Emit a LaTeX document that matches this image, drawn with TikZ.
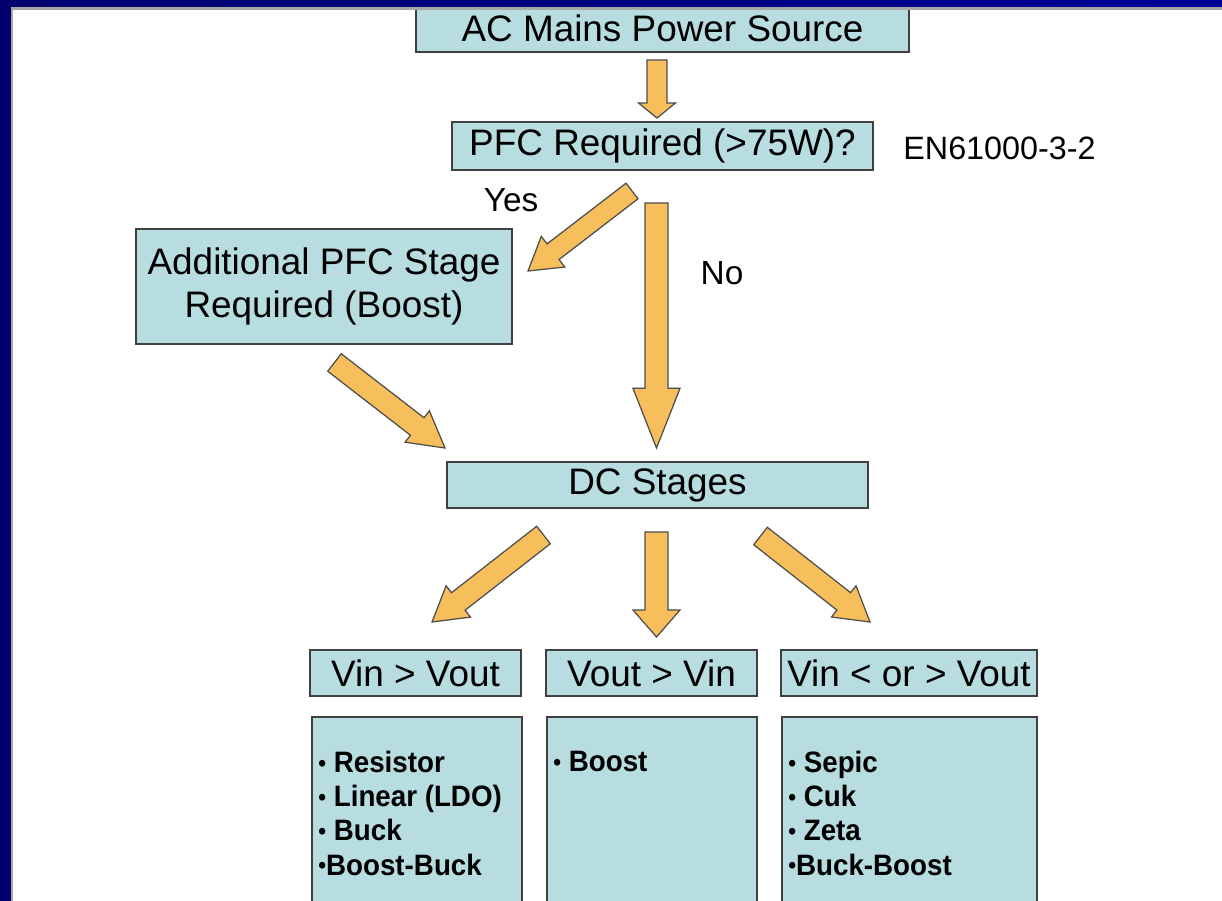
\documentclass[tikz,border=0pt]{standalone}
\usepackage{fontspec}
\setmainfont{Liberation Sans}
\newfontfamily\itemfont{Liberation Sans}[FakeStretch=0.94]
\usetikzlibrary{calc}

\definecolor{boxblue}{RGB}{183,221,225}
\definecolor{arroworange}{RGB}{246,191,92}
\definecolor{navy}{RGB}{0,0,110}
\definecolor{brightnavy}{RGB}{0,0,150}

\tikzset{
  stage/.style={draw=black!75,line width=0.8pt,fill=boxblue,inner sep=0pt,font=\fontsize{21}{25}\selectfont},
  blockarrow/.style={draw=black!70,line width=0.7pt,fill=arroworange,line join=miter},
  note/.style={font=\fontsize{19}{23}\selectfont},
  items/.style={font=\itemfont\fontsize{16.8}{19.4}\selectfont\bfseries,align=left,inner sep=0pt,anchor=north west}
}

\newcommand{\dotitem}{\raisebox{0.1ex}{\scalebox{0.8}{•}}}

% #1 shaft half width, #2 head half width, #3 head length, #4 from, #5 to
\newcommand{\fatarrow}[5]{%
  \coordinate (hb) at ($(#5)!#3!(#4)$);
  \draw[blockarrow] ($(#4)!#1!90:(#5)$) -- ($(hb)!#1!90:(#5)$) -- ($(hb)!#2!90:(#5)$) -- (#5)
    -- ($(hb)!#2!-90:(#5)$) -- ($(hb)!#1!-90:(#5)$) -- ($(#4)!#1!-90:(#5)$) -- cycle;
}

\begin{document}
\begin{tikzpicture}[x=0.02cm,y=-0.02cm]
    \useasboundingbox (0,0) rectangle (1222,901);
    \fill[white] (0,0) rectangle (1222,901);

    % boxes
    \node[stage,minimum width=9.86cm,minimum height=0.96cm] (ac) at (662.5,28) {AC Mains Power Source};
    \node[stage,minimum width=8.42cm,minimum height=0.96cm] (pfc) at (662.5,146) {PFC Required (>75W)?};
    \node[stage,minimum width=7.52cm,minimum height=2.3cm,align=center] (add) at (324,286.5) {Additional PFC Stage\\Required (Boost)};
    \node[stage,minimum width=8.42cm,minimum height=0.92cm] (dc) at (657.5,485) {DC Stages};

    \node[stage,minimum width=4.22cm,minimum height=0.92cm] (buck) at (415.5,673) {Vin > Vout};
    \node[stage,minimum width=4.22cm,minimum height=0.92cm] (boost) at (651.5,673) {Vout > Vin};
    \node[stage,minimum width=5.12cm,minimum height=0.92cm] (both) at (909,673) {Vin < or > Vout};

    \node[stage,minimum width=4.2cm,minimum height=3.96cm] (bucklist) at (417,816) {};
    \node[stage,minimum width=4.2cm,minimum height=3.96cm] (boostlist) at (652,816) {};
    \node[stage,minimum width=5.1cm,minimum height=3.96cm] (bothlist) at (909.5,816) {};

    \node[items] (bucktext) at (318,751) {\dotitem{} Resistor\\\dotitem{} Linear (LDO)\\\dotitem{} Buck\\\dotitem Boost-Buck};
    \node[items] (boosttext) at (553,751) {\dotitem{} Boost};
    \node[items] (bothtext) at (788,751) {\dotitem{} Sepic\\\dotitem{} Cuk\\\dotitem{} Zeta\\\dotitem Buck-Boost};

    % labels
    \node[font=\fontsize{18.4}{22}\selectfont,anchor=west,inner sep=0pt] (std) at (903,148) {EN61000-3-2};
    \node[note] (yes) at (511,200) {Yes};
    \node[note] (no) at (722,273) {No};

    % arrows
    \coordinate (ac-out) at (657,60);   \coordinate (pfc-in) at (657,118);
    \coordinate (yes-out) at (632,191); \coordinate (add-in) at (528,271);
    \coordinate (no-out) at (656.5,203); \coordinate (dc-in1) at (656.5,448);
    \coordinate (add-out) at (334.5,362.5); \coordinate (dc-in2) at (445,448);
    \coordinate (dc-out1) at (543.5,535); \coordinate (buck-in) at (432,622);
    \coordinate (dc-out2) at (656.5,532); \coordinate (boost-in) at (656.5,637);
    \coordinate (dc-out3) at (760.5,536); \coordinate (both-in) at (870,622);

    \fatarrow{5.7pt}{10.5pt}{8.5pt}{ac-out}{pfc-in}
    \fatarrow{5.6pt}{11pt}{18pt}{yes-out}{add-in}
    \fatarrow{6.5pt}{13.4pt}{34pt}{no-out}{dc-in1}
    \fatarrow{6.3pt}{11.3pt}{20pt}{add-out}{dc-in2}
    \fatarrow{6.3pt}{11.3pt}{19pt}{dc-out1}{buck-in}
    \fatarrow{6.5pt}{13.4pt}{15.4pt}{dc-out2}{boost-in}
    \fatarrow{6.3pt}{11.3pt}{19pt}{dc-out3}{both-in}

    % frame
    \shade[left color=navy,right color=brightnavy] (0,0) rectangle (1222,7);
    \fill[navy] (0,0) rectangle (11,901);
    \fill[gray!70] (11,7) rectangle (1222,10);
    \fill[gray!70] (11,7) rectangle (12.5,901);
\end{tikzpicture}
\end{document}
